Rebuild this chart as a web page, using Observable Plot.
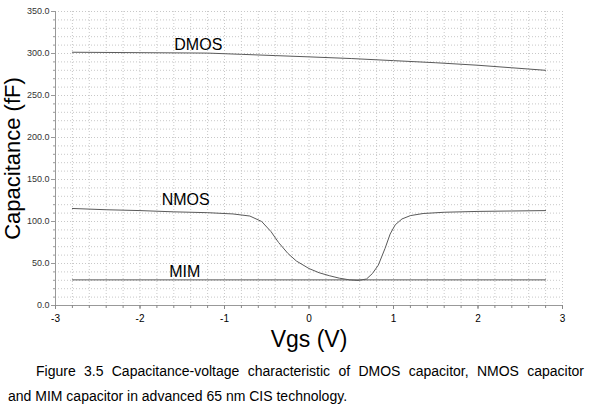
<!DOCTYPE html>
<html>
<head>
<meta charset="utf-8">
<script src="https://cdn.jsdelivr.net/npm/d3@7"></script>
<script src="https://cdn.jsdelivr.net/npm/@observablehq/plot@0.6"></script>
<style>
  body { margin: 0; background: #fff; font-family: Arial, "Liberation Sans", sans-serif; }
  #chart svg { display: block; }
  #caption { position: absolute; left: 8px; top: 359px; width: 576px; font-size: 14px; line-height: 25px; color: #000; text-align: justify; text-align-last: left; }
  #caption .l1 { display: block; text-indent: 28px; text-align: justify; text-align-last: justify; }
</style>
</head>
<body>
<div id="chart"></div>
<div id="caption"><span class="l1">Figure 3.5 Capacitance-voltage characteristic of DMOS capacitor, NMOS capacitor</span>and MIM capacitor in advanced 65 nm CIS technology.</div>
<script>
const dmosVgs = [-2.8, -2.0, -1.2, -0.8, -0.4, 0, 0.5, 1.0, 1.5, 2.0, 2.4, 2.8];
const dmosC   = [301.5, 301, 300.5, 299, 297.5, 296, 294, 291.5, 289, 286, 283, 280];

const nmosVgs = [-2.8, -2.4, -2.0, -1.6, -1.2, -0.9, -0.7, -0.56, -0.45, -0.36, -0.25, -0.15, 0, 0.12, 0.24, 0.36, 0.48, 0.58, 0.68, 0.75, 0.82, 0.9, 0.96, 1.02, 1.1, 1.2, 1.35, 1.6, 2.0, 2.4, 2.8];
const nmosC   = [115.5, 114, 113, 111.5, 110.5, 109, 106.5, 100, 88, 75, 62, 53, 44, 39, 35.5, 32.5, 30.5, 29.8, 31.5, 38, 48, 68, 85, 96, 103, 107, 109.5, 111, 112, 112.5, 113];

const mimVgs = [-2.8, 2.8];
const mimC   = [30.5, 30.5];

const labels = [
  {name: "DMOS", vgs: -1.31, c: 304},
  {name: "NMOS", vgs: -1.46, c: 120},
  {name: "MIM",  vgs: -1.47, c: 34.5}
];

const xTicks = [-3, -2, -1, 0, 1, 2, 3];
const yTicks = [0, 50, 100, 150, 200, 250, 300, 350];

const toRows = (xs, ys) => xs.map((v, i) => ({vgs: v, c: ys[i]}));
const dmos = toRows(dmosVgs, dmosC);
const nmos = toRows(nmosVgs, nmosC);
const mim = toRows(mimVgs, mimC);

const minorX = d3.range(-3, 3.0001, 0.2).map(v => +v.toFixed(2));
const minorY = d3.range(0, 350.0001, 10);

const lineColor = "#5a5a5a";
const gridStyle = {stroke: "#c8c8c8", strokeOpacity: 1, strokeDasharray: "1,2", strokeWidth: 1};

const chart = Plot.plot({
  width: 591,
  height: 356,
  marginLeft: 55,
  marginRight: 29,
  marginTop: 11,
  marginBottom: 51,
  style: {fontFamily: "Arial, 'Liberation Sans', sans-serif", background: "#fff"},
  x: {domain: [-3, 3]},
  y: {domain: [0, 350]},
  marks: [
    Plot.gridX(minorX, gridStyle),
    Plot.gridY(minorY, gridStyle),
    Plot.ruleX([-3], {stroke: "#999"}),
    Plot.ruleY([0], {stroke: "#999"}),
    Plot.axisX(minorX, {tickSize: 3, tickFormat: () => "", stroke: "#888", label: null}),
    Plot.axisX(xTicks, {tickSize: 4, tickFormat: d => d < 0 ? "-" + Math.abs(d) : String(d), fontSize: 10, fill: "#000", stroke: "#888", tickPadding: 5,
      label: "Vgs (V)", labelAnchor: "center", labelArrow: "none", labelOffset: 41}),
    Plot.axisY(minorY, {tickSize: 2, tickFormat: () => "", stroke: "#999", label: null}),
    Plot.axisY(yTicks, {tickSize: 4, tickFormat: d3.format(".1f"), fontSize: 9, fill: "#333", stroke: "#999", tickPadding: 2,
      label: "Capacitance (fF)", labelAnchor: "center", labelArrow: "none", labelOffset: 51}),
    Plot.line(dmos, {x: "vgs", y: "c", stroke: lineColor, strokeWidth: 1}),
    Plot.line(nmos, {x: "vgs", y: "c", stroke: lineColor, strokeWidth: 1}),
    Plot.line(mim, {x: "vgs", y: "c", stroke: lineColor, strokeWidth: 1}),
    Plot.text(labels, {x: "vgs", y: "c", text: "name", fontSize: 16, fill: "#000", textAnchor: "middle", lineAnchor: "bottom"})
  ]
});

// enlarge axis titles
chart.querySelectorAll("g[aria-label='x-axis label'] text").forEach(t => {
  t.setAttribute("font-size", "23");
  t.style.fontSize = "23px";
  t.setAttribute("fill", "#000");
});
chart.querySelectorAll("g[aria-label='y-axis label'] text").forEach(t => {
  t.setAttribute("font-size", "22");
  t.style.fontSize = "22px";
  t.setAttribute("fill", "#000");
});
document.getElementById("chart").appendChild(chart);
</script>
</body>
</html>
